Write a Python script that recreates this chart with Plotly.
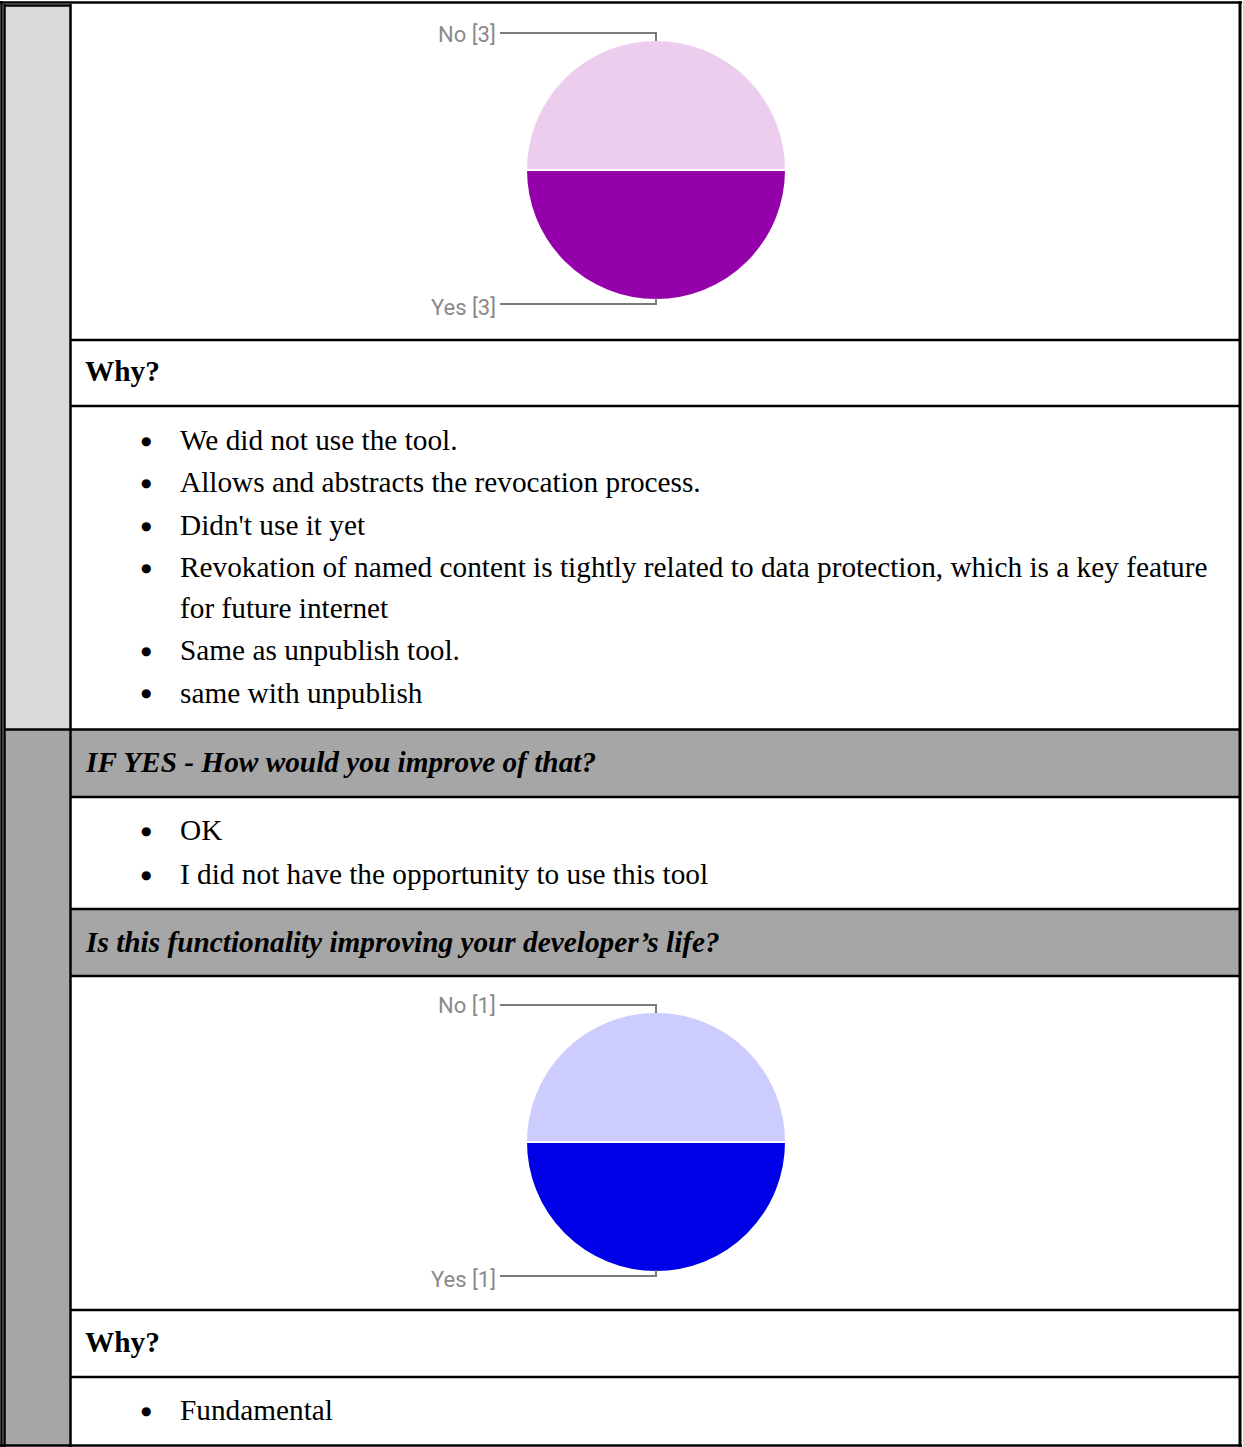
import plotly.graph_objects as go

W, H = 1243, 1447

# ---- data ----
pie1_labels = ["No", "Yes"]
pie1_values = [3, 3]
pie1_colors = ["#edcdee", "#9400a9"]

pie2_labels = ["No", "Yes"]
pie2_values = [1, 1]
pie2_colors = ["#ccccff", "#0000e6"]

why1_answers = [
    "We did not use the tool.",
    "Allows and abstracts the revocation process.",
    "Didn't use it yet",
    "Revokation of named content is tightly related to data protection, which is a key feature<br>for future internet",
    "Same as unpublish tool.",
    "same with unpublish",
]
improve_answers = ["OK", "I did not have the opportunity to use this tool"]
why2_answers = ["Fundamental"]

heading_why = "Why?"
heading_improve = "IF YES - How would you improve of that?"
heading_dev = "Is this functionality improving your developer\u2019s life?"


def px(x):
    return x / W


def py(y):
    return 1 - y / H


fig = go.Figure()

for labels, values, colors, top, bottom in [
    (pie1_labels, pie1_values, pie1_colors, 40, 300),
    (pie2_labels, pie2_values, pie2_colors, 1012, 1272),
]:
    fig.add_trace(go.Pie(
        labels=labels, values=values, sort=False, direction="clockwise",
        rotation=-90, textinfo="none", hoverinfo="label+value",
        marker=dict(colors=colors, line=dict(color="white", width=2)),
        domain=dict(x=[px(526), px(786)], y=[py(bottom), py(top)]),
        showlegend=False,
    ))

shapes = []


def rect(x0, y0, x1, y1, color):
    shapes.append(dict(type="rect", xref="paper", yref="paper", x0=px(x0), x1=px(x1),
                       y0=py(y1), y1=py(y0), fillcolor=color, line=dict(width=0), layer="below"))


rect(5, 6, 70, 729, "#d9d9d9")
rect(5, 730, 70, 1446, "#a6a6a6")
rect(70, 730, 1240, 797, "#a6a6a6")
rect(70, 909, 1240, 976, "#a6a6a6")


def hline(y, x0, x1, w=2.5):
    shapes.append(dict(type="line", xref="paper", yref="paper", x0=px(x0), x1=px(x1),
                       y0=py(y), y1=py(y), line=dict(color="black", width=w)))


def vline(x, y0, y1, w=2.5):
    shapes.append(dict(type="line", xref="paper", yref="paper", x0=px(x), x1=px(x),
                       y0=py(y0), y1=py(y1), line=dict(color="black", width=w)))


hline(2.5, 0, 1242)
hline(5.5, 4, 71)
for yy in [340, 406, 797, 909, 976, 1310, 1377]:
    hline(yy, 70, 1241)
hline(729.5, 4, 1241)
hline(1445.5, 0, 1242)
vline(1.5, 1, 1447)
vline(4.5, 4, 1447)
vline(70.5, 4, 1447)
vline(1240, 1, 1447, 3)


def leader(y_text, y_pie):
    shapes.append(dict(type="path", xref="paper", yref="paper",
                       path=f"M {px(500)} {py(y_text)} L {px(656)} {py(y_text)} L {px(656)} {py(y_pie)}",
                       line=dict(color="#7a7a7a", width=2)))


leader(33, 41)
leader(304, 298)
leader(1005, 1013)
leader(1276, 1270)

fig.update_layout(shapes=shapes)

ann = []
SERIF = "Liberation Serif, Times New Roman, serif"
FS = 29.3


def text(x, y, s, size=FS, bold=False, italic=False, anchor="left", font=SERIF, color="black"):
    if bold:
        s = f"<b>{s}</b>"
    if italic:
        s = f"<i>{s}</i>"
    ann.append(dict(x=px(x), y=py(y), xref="paper", yref="paper", text=s, showarrow=False,
                    xanchor=anchor, yanchor="middle", align="left",
                    font=dict(family=font, size=size, color=color)))


def bullets(items, y_start, step=42.3, wrap_step=41):
    y = y_start
    for it in items:
        lines = it.split("<br>")
        text(146, y + 1, "\u25CF", size=12, anchor="center", font="DejaVu Sans")
        for i, ln in enumerate(lines):
            text(178, y + i * wrap_step, ln)
        y += step + (len(lines) - 1) * wrap_step


text(83, 371, heading_why, bold=True)
bullets(why1_answers, 440)
text(83, 762, heading_improve, bold=True, italic=True)
bullets(improve_answers, 830, step=44)
text(83, 942, heading_dev, bold=True, italic=True)
text(83, 1342, heading_why, bold=True)
bullets(why2_answers, 1410)

LAB = "Roboto, Arial, sans-serif"
LS = 22
text(498, 35, f"{pie1_labels[0]} [{pie1_values[0]}]", size=LS, anchor="right", font=LAB, color="#8a8a8a")
text(498, 307, f"{pie1_labels[1]} [{pie1_values[1]}]", size=LS, anchor="right", font=LAB, color="#8a8a8a")
text(498, 1006, f"{pie2_labels[0]} [{pie2_values[0]}]", size=LS, anchor="right", font=LAB, color="#8a8a8a")
text(498, 1279, f"{pie2_labels[1]} [{pie2_values[1]}]", size=LS, anchor="right", font=LAB, color="#8a8a8a")

fig.update_layout(
    annotations=ann,
    width=W, height=H,
    margin=dict(l=0, r=0, t=0, b=0),
    paper_bgcolor="white", plot_bgcolor="white",
    showlegend=False,
)

fig.write_html("out.html", config={"displayModeBar": False},
               post_script="document.body.style.margin='0';")
